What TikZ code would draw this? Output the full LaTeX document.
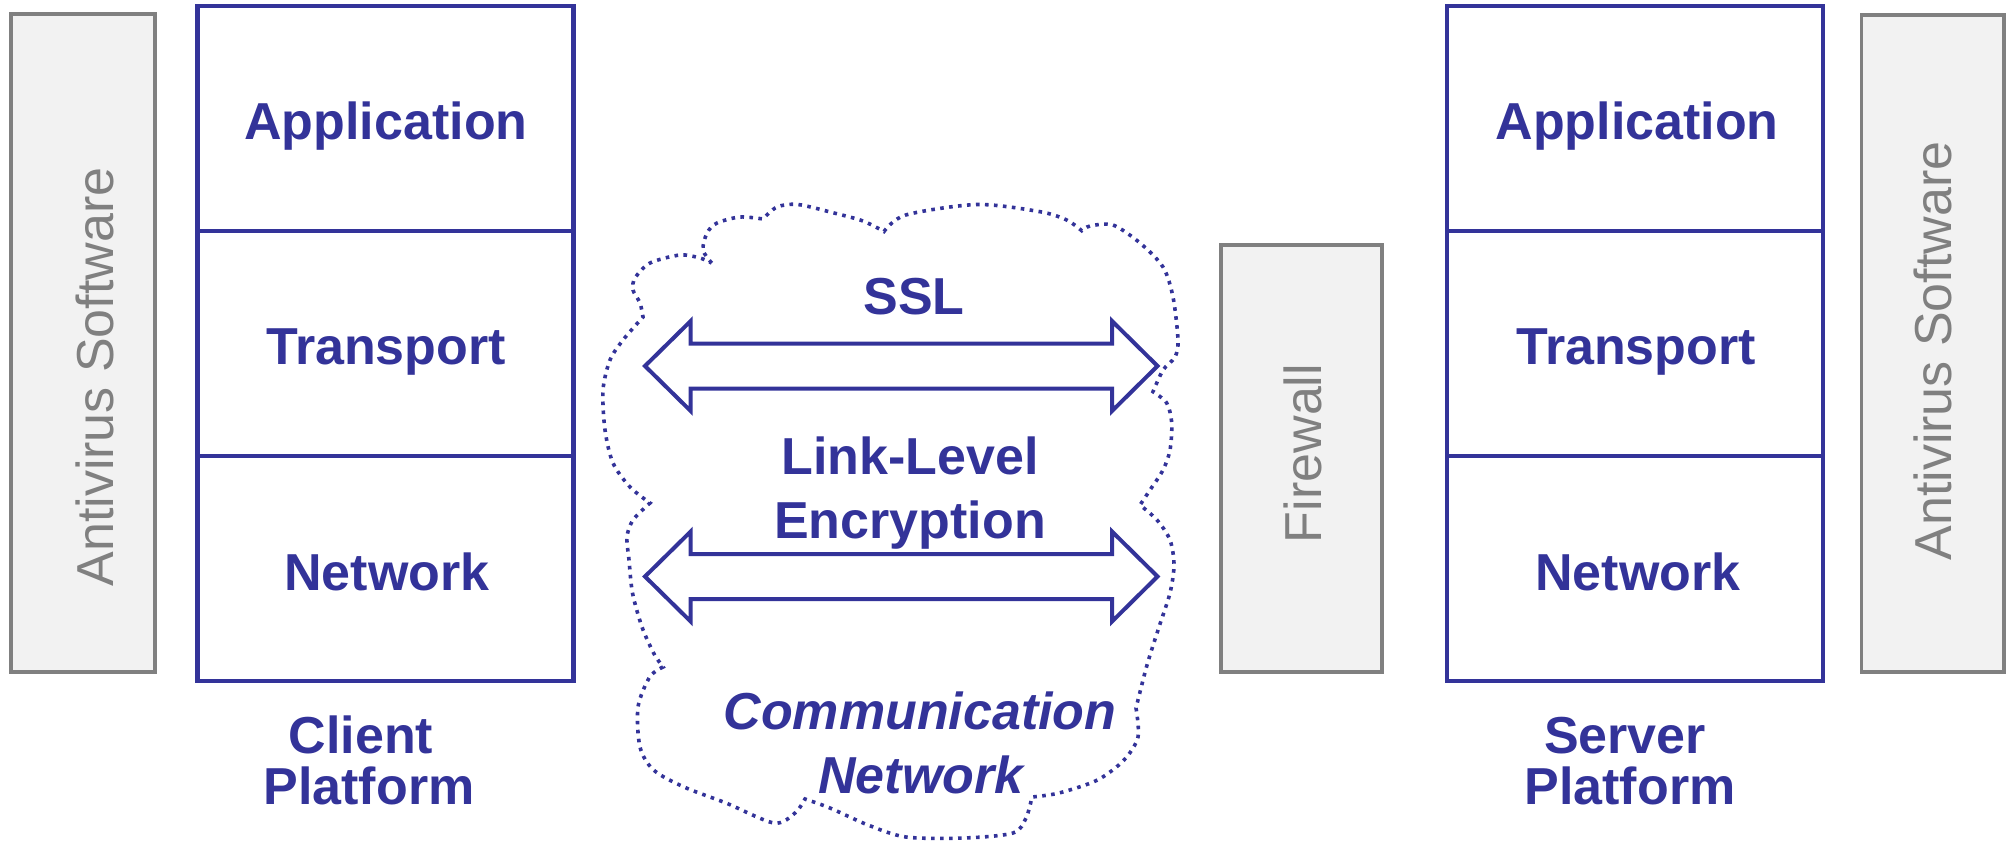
\documentclass[tikz,border=0pt]{standalone}
\usepackage{fontspec}
\setmainfont{Liberation Sans}
\definecolor{layerblue}{RGB}{51,51,153}
\definecolor{boxgray}{RGB}{128,128,128}
\definecolor{boxfill}{RGB}{242,242,242}

\begin{document}
\begin{tikzpicture}[x=1pt,y=-1pt,
  cell/.style={draw=layerblue, line width=4.8pt, minimum width=376pt,
    minimum height=225pt, inner sep=0pt, outer sep=0pt},
  sidebox/.style={draw=boxgray, fill=boxfill, line width=3.5pt,
    inner sep=0pt, outer sep=0pt},
  lbl/.style={text=layerblue, inner sep=0pt, anchor=base,
    font=\fontsize{52pt}{52pt}\selectfont\bfseries},
  lblit/.style={lbl, font=\fontsize{52pt}{52pt}\selectfont\bfseries\itshape},
  graylbl/.style={text=boxgray, inner sep=0pt, anchor=base, rotate=90,
    font=\fontsize{52pt}{52pt}\selectfont},
  blockarrow/.style={draw=layerblue, fill=white, line width=4pt},
  cloudline/.style={draw=layerblue, line width=3.6pt, dash pattern=on 3.6pt off 5.4pt}]

\useasboundingbox (0,0) rectangle (2009,841);

% side boxes
\node[sidebox, minimum width=144pt, minimum height=658pt] (avleft) at (83,343) {};
\node[sidebox, minimum width=142.5pt, minimum height=657pt] (avright) at (1932.8,343.5) {};
\node[sidebox, minimum width=161pt, minimum height=427pt] (fw) at (1301.5,458.5) {};
\node[graylbl] (avlefttxt) at (113.7,377) {Antivirus Software};
\node[graylbl] (avrighttxt) at (1951,351) {Antivirus Software};
\node[graylbl] (fwtxt) at (1321,453.5) {Firewall};

% client protocol stack
\node[cell] (capp) at (385.5,118.5) {};
\node[cell] (ctrn) at (385.5,343.5) {};
\node[cell] (cnet) at (385.5,568.5) {};
\node[lbl] (capptxt) at (386,139) {Application};
\node[lbl] (ctrntxt) at (386,364.5) {Transport};
\node[lbl] (cnettxt) at (387,590) {Network};
\node[lbl] (cplat1) at (361,753.5) {Client};
\node[lbl] (cplat2) at (369,804.5) {Platform};

% server protocol stack
\node[cell] (sapp) at (1635,118.5) {};
\node[cell] (strn) at (1635,343.5) {};
\node[cell] (snet) at (1635,568.5) {};
\node[lbl] (sapptxt) at (1637,139) {Application};
\node[lbl] (strntxt) at (1636,364.5) {Transport};
\node[lbl] (snettxt) at (1638,590) {Network};
\node[lbl] (splat1) at (1625,753.5) {Server};
\node[lbl] (splat2) at (1630,804.5) {Platform};

% communication network cloud
\draw[cloudline] (711.7,263)
  -- plot[smooth] coordinates {(711.7,263) (703,250) (707,233) (717,223) (740,217) (763,219)}
  -- plot[smooth] coordinates {(763,219) (777,207) (798,204.5) (834,213) (863,221) (884,231.5)}
  -- plot[smooth] coordinates {(884,231.5) (905.7,215) (977,204.5) (1040,211.7) (1066.7,220) (1081.7,230.7)}
  -- plot[smooth] coordinates {(1081.7,230.7) (1090,226) (1113,225) (1140,243) (1163,267) (1173,297) (1178,340) (1175,357) (1163,370) (1153,391.7)}
  -- plot[smooth] coordinates {(1153,391.7) (1166.7,403) (1171.7,423) (1170,450) (1163,470) (1150,490) (1140,505)}
  -- plot[smooth] coordinates {(1140,505) (1157,520) (1170,540) (1174,565) (1170,593) (1159,627) (1147,665) (1136,708)}
  -- plot[smooth] coordinates {(1136,708) (1138,737) (1124,760) (1097.5,780) (1059,793) (1032,797)}
  -- plot[smooth] coordinates {(1032,797) (1026,818) (1013,833) (964,838) (906,837) (868,825) (830,808) (805,799)}
  -- plot[smooth] coordinates {(805,799) (795,813) (774,823) (726,803) (684,787) (653.6,770) (640,747) (638,707) (649.7,677) (663,667)}
  -- plot[smooth] coordinates {(663,667) (653.6,653) (642,627) (632.5,593) (629,560) (627,537) (633,520) (650,503)}
  -- plot[smooth] coordinates {(650,503) (630,487) (613,463) (605,430) (603,390) (610,360) (623,340) (643,317)}
  -- plot[smooth] coordinates {(643,317) (640,303) (633,290) (635,278) (650,263) (680,255) (700,258) (711.7,263)}
  -- cycle;

% double block arrows
\draw[blockarrow] (645,366) -- (690.7,321) -- (690.7,343.5) -- (1112,343.5) -- (1112,321)
  -- (1157.5,366) -- (1112,411) -- (1112,388.5) -- (690.7,388.5) -- (690.7,411) -- cycle;
\draw[blockarrow] (645,576.5) -- (690.7,531.5) -- (690.7,554) -- (1112,554) -- (1112,531.5)
  -- (1157.5,576.5) -- (1112,621.5) -- (1112,599) -- (690.7,599) -- (690.7,621.5) -- cycle;

\node[lbl] (ssl) at (914,314) {SSL};
\node[lbl] (lle1) at (910,474) {Link-Level};
\node[lbl] (lle2) at (910,538) {Encryption};
\node[lblit] (comm1) at (920,729) {Communication};
\node[lblit] (comm2) at (921,793) {Network};
\end{tikzpicture}
\end{document}
